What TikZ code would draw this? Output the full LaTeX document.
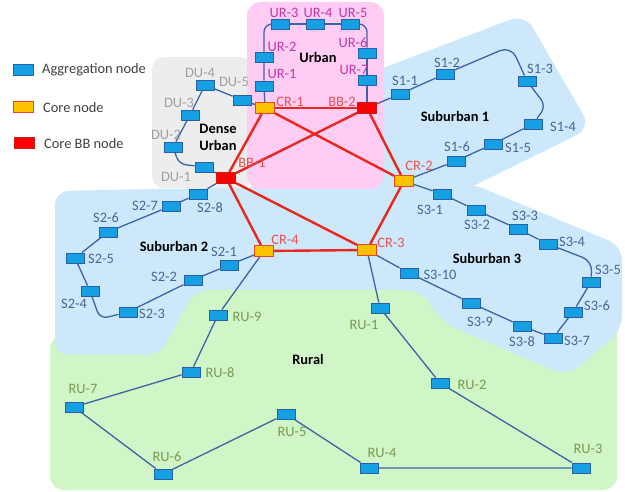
\documentclass[tikz,border=0pt]{standalone}
\usepackage{fontspec}
\setmainfont{Carlito}
\usetikzlibrary{backgrounds}
\definecolor{aggF}{RGB}{22,160,228}
\definecolor{aggB}{RGB}{40,95,165}
\definecolor{coreF}{RGB}{255,192,0}
\definecolor{coreB}{RGB}{232,72,32}
\definecolor{bbF}{RGB}{250,0,0}
\definecolor{bbB}{RGB}{200,30,20}
\definecolor{linkB}{RGB}{60,100,165}
\definecolor{linkR}{RGB}{232,40,30}
\definecolor{greyR}{RGB}{237,237,237}
\definecolor{pinkR}{RGB}{255,204,244}
\definecolor{blueR}{RGB}{204,232,250}
\definecolor{greenR}{RGB}{208,245,198}
\definecolor{duC}{RGB}{160,160,160}
\definecolor{urC}{RGB}{190,55,170}
\definecolor{crC}{RGB}{232,80,80}
\definecolor{sC}{RGB}{75,100,150}
\definecolor{ruC}{RGB}{120,155,80}
\definecolor{legC}{RGB}{64,64,64}
\tikzset{
 agg/.style={draw=aggB, fill=aggF, line width=0.9pt, minimum width=18pt, minimum height=10pt, inner sep=0pt},
 core/.style={draw=coreB, fill=coreF, line width=1pt, minimum width=19pt, minimum height=11pt, inner sep=0pt},
 bbn/.style={draw=bbB, fill=bbF, line width=1pt, minimum width=19pt, minimum height=11pt, inner sep=0pt},
 lbl/.style={inner sep=0pt, font=\fontsize{14.4}{16}\selectfont},
 reg/.style={inner sep=0pt, align=center, font=\bfseries\fontsize{14.4}{17}\selectfont},
 leg/.style={inner sep=0pt, anchor=west, text=legC, font=\fontsize{14.4}{16}\selectfont},
 alink/.style={draw=linkB, line width=1.3pt},
 clink/.style={draw=linkR, line width=2.4pt},
}
\begin{document}
\begin{tikzpicture}[x=1pt,y=-1pt]
\useasboundingbox (0,0) rectangle (625,492);

% legend
\node[agg, minimum width=20pt, minimum height=11pt] (legA) at (23,70) {};
\node[core, minimum width=20pt] (legC) at (23,107) {};
\node[bbn, minimum width=20pt] (legB) at (24,143) {};
\node[leg] (legAt) at (42,70) {Aggregation node};
\node[leg] (legCt) at (43,108) {Core node};
\node[leg] (legBt) at (44,144) {Core BB node};

% core nodes
\node[core] (cr1) at (265,108) {};
\node[bbn] (bb2) at (367,108) {};
\node[bbn] (bb1) at (226,178) {};
\node[core] (cr2) at (404,181) {};
\node[core] (cr3) at (367,250) {};
\node[core] (cr4) at (264,251) {};

% aggregation nodes
\node[agg] (du1) at (204,167) {};
\node[agg] (du2) at (173,147) {};
\node[agg] (du3) at (190,115) {};
\node[agg] (du4) at (205,85) {};
\node[agg] (du5) at (242,100) {};
\node[agg] (ur1) at (264,86) {};
\node[agg] (ur2) at (264,57) {};
\node[agg] (ur3) at (280,24) {};
\node[agg] (ur4) at (315,24) {};
\node[agg] (ur5) at (350,24) {};
\node[agg] (ur6) at (367,53) {};
\node[agg] (ur7) at (367,80) {};
\node[agg] (sa1) at (400,94) {};
\node[agg] (sa2) at (445,74) {};
\node[agg] (sa3) at (527,81) {};
\node[agg] (sa4) at (533,124) {};
\node[agg] (sa5) at (493,144) {};
\node[agg] (sa6) at (456,161) {};
\node[agg] (sc1) at (442,194) {};
\node[agg] (sc2) at (476,210) {};
\node[agg] (sc3) at (518,229) {};
\node[agg] (sc4) at (548,244) {};
\node[agg] (sc5) at (591,282) {};
\node[agg] (sc6) at (573,312) {};
\node[agg] (sc7) at (553,338) {};
\node[agg] (sc8) at (522,326) {};
\node[agg] (sc9) at (471,303) {};
\node[agg] (sc10) at (409,273) {};
\node[agg] (sb1) at (229,265) {};
\node[agg] (sb2) at (193,280) {};
\node[agg] (sb3) at (128,312) {};
\node[agg] (sb4) at (90,291) {};
\node[agg] (sb5) at (75,258) {};
\node[agg] (sb6) at (108,232) {};
\node[agg] (sb7) at (171,206) {};
\node[agg] (sb8) at (198,194) {};
\node[agg] (ru1) at (380,308) {};
\node[agg] (ru2) at (440,383) {};
\node[agg] (ru3) at (581,468) {};
\node[agg] (ru4) at (369,468) {};
\node[agg] (ru5) at (286,414) {};
\node[agg] (ru6) at (163,474) {};
\node[agg] (ru7) at (74,407) {};
\node[agg] (ru8) at (191,372) {};
\node[agg] (ru9) at (218,315) {};

% helper corners
\coordinate (kD) at (179,164);
\coordinate (kU1) at (264,24);
\coordinate (kU2) at (367,24);
\coordinate (kS1) at (511,46);
\coordinate (kS2) at (546,106);
\coordinate (kS3) at (592,261);
\coordinate (kS4) at (100,319);

\begin{scope}[on background layer]
% regions
\fill[greenR, rounded corners=14pt] (50,335) -- (130,335) -- (130,290) -- (617,290) -- (617,490) -- (50,490) -- cycle;
\fill[blueR, rounded corners=14pt] (55,191) -- (470,183) -- (622,246) -- (622,330) -- (567,376) -- (445,324) -- (420,290) -- (195,290) -- (160,355) -- (55,355) -- cycle;
\fill[blueR, rounded corners=16pt] (320,92) -- (525,14) -- (591,128) -- (380,232) -- cycle;
\fill[greyR, rounded corners=12pt] (152,57) rectangle (252,188);
\fill[pinkR, rounded corners=14pt] (247,2) rectangle (384,189);
% core links
\draw[clink] (cr1) -- (bb2);
\draw[clink] (cr1) -- (bb1);
\draw[clink] (cr1) -- (cr2);
\draw[clink] (bb2) -- (bb1);
\draw[clink] (bb2) -- (cr2);
\draw[clink] (bb1) -- (cr4);
\draw[clink] (bb1) -- (cr3);
\draw[clink] (cr2) -- (cr3);
\draw[clink] (cr4) -- (cr3);
% dense urban
\draw[alink] (bb1) -- (du1);
\draw[alink, rounded corners=7pt] (du1) -- (kD) -- (du2);
\draw[alink] (du2) -- (du3) -- (du4) -- (du5) -- (cr1);
% urban
\draw[alink] (cr1) -- (ur1) -- (ur2);
\draw[alink, rounded corners=8pt] (ur2) -- (kU1) -- (ur3);
\draw[alink] (ur3) -- (ur4) -- (ur5);
\draw[alink, rounded corners=8pt] (ur5) -- (kU2) -- (ur6);
\draw[alink] (ur6) -- (ur7) -- (bb2);
% suburban 1
\draw[alink] (bb2) -- (sa1) -- (sa2);
\draw[alink, rounded corners=12pt] (sa2) -- (kS1) -- (sa3);
\draw[alink, rounded corners=8pt] (sa3) -- (kS2) -- (sa4);
\draw[alink] (sa4) -- (sa5) -- (sa6) -- (cr2);
% suburban 3
\draw[alink] (cr2) -- (sc1) -- (sc2) -- (sc3) -- (sc4);
\draw[alink, rounded corners=10pt] (sc4) -- (kS3) -- (sc5);
\draw[alink] (sc5) -- (sc6) -- (sc7) -- (sc8) -- (sc9) -- (sc10) -- (cr3);
% suburban 2
\draw[alink] (cr4) -- (sb1) -- (sb2) -- (sb3);
\draw[alink, rounded corners=8pt] (sb3) -- (kS4) -- (sb4);
\draw[alink] (sb4) -- (sb5) -- (sb6) -- (sb7) -- (sb8) -- (bb1);
% rural
\draw[alink] (cr3) -- (ru1) -- (ru2) -- (ru3) -- (ru4) -- (ru5) -- (ru6) -- (ru7) -- (ru8) -- (ru9) -- (cr4);
\end{scope}

% labels core
\node[lbl, text=crC] (tcr1) at (290,102) {CR-1};
\node[lbl, text=crC] (tbb2) at (342,102) {BB-2};
\node[lbl, text=crC] (tbb1) at (252,163) {BB-1};
\node[lbl, text=crC] (tcr2) at (419,166) {CR-2};
\node[lbl, text=crC] (tcr3) at (391,243) {CR-3};
\node[lbl, text=crC] (tcr4) at (285,240) {CR-4};
% labels DU
\node[lbl, text=duC] (tdu1) at (176,177) {DU-1};
\node[lbl, text=duC] (tdu2) at (166,135) {DU-2};
\node[lbl, text=duC] (tdu3) at (179,103) {DU-3};
\node[lbl, text=duC] (tdu4) at (200,73) {DU-4};
\node[lbl, text=duC] (tdu5) at (234,82) {DU-5};
% labels UR
\node[lbl, text=urC] (tur1) at (282,74) {UR-1};
\node[lbl, text=urC] (tur2) at (282,47) {UR-2};
\node[lbl, text=urC] (tur3) at (284,13) {UR-3};
\node[lbl, text=urC] (tur4) at (318,13) {UR-4};
\node[lbl, text=urC] (tur5) at (353,13) {UR-5};
\node[lbl, text=urC] (tur6) at (353,43) {UR-6};
\node[lbl, text=urC] (tur7) at (354,70) {UR-7};
% labels S1
\node[lbl, text=sC] (tsa1) at (405,81) {S1-1};
\node[lbl, text=sC] (tsa2) at (447,63) {S1-2};
\node[lbl, text=sC] (tsa3) at (540,69) {S1-3};
\node[lbl, text=sC] (tsa4) at (563,127) {S1-4};
\node[lbl, text=sC] (tsa5) at (518,148) {S1-5};
\node[lbl, text=sC] (tsa6) at (457,147) {S1-6};
% labels S3
\node[lbl, text=sC] (tsc1) at (430,210) {S3-1};
\node[lbl, text=sC] (tsc2) at (477,225) {S3-2};
\node[lbl, text=sC] (tsc3) at (525,216) {S3-3};
\node[lbl, text=sC] (tsc4) at (572,242) {S3-4};
\node[lbl, text=sC] (tsc5) at (608,270) {S3-5};
\node[lbl, text=sC] (tsc6) at (597,306) {S3-6};
\node[lbl, text=sC] (tsc7) at (577,341) {S3-7};
\node[lbl, text=sC] (tsc8) at (522,342) {S3-8};
\node[lbl, text=sC] (tsc9) at (480,322) {S3-9};
\node[lbl, text=sC] (tsc10) at (440,275) {S3-10};
% labels S2
\node[lbl, text=sC] (tsb1) at (224,252) {S2-1};
\node[lbl, text=sC] (tsb2) at (164,277) {S2-2};
\node[lbl, text=sC] (tsb3) at (152,314) {S2-3};
\node[lbl, text=sC] (tsb4) at (74,304) {S2-4};
\node[lbl, text=sC] (tsb5) at (101,259) {S2-5};
\node[lbl, text=sC] (tsb6) at (106,218) {S2-6};
\node[lbl, text=sC] (tsb7) at (145,206) {S2-7};
\node[lbl, text=sC] (tsb8) at (210,208) {S2-8};
% labels RU
\node[lbl, text=ruC] (tru1) at (364,325) {RU-1};
\node[lbl, text=ruC] (tru2) at (472,385) {RU-2};
\node[lbl, text=ruC] (tru3) at (588,449) {RU-3};
\node[lbl, text=ruC] (tru4) at (382,453) {RU-4};
\node[lbl, text=ruC] (tru5) at (292,432) {RU-5};
\node[lbl, text=ruC] (tru6) at (167,457) {RU-6};
\node[lbl, text=ruC] (tru7) at (83,389) {RU-7};
\node[lbl, text=ruC] (tru8) at (220,373) {RU-8};
\node[lbl, text=ruC] (tru9) at (247,317) {RU-9};
% region labels
\node[reg] (rDU) at (218,137) {Dense\\Urban};
\node[reg] (rUR) at (318,58) {Urban};
\node[reg] (rS1) at (455,117) {Suburban 1};
\node[reg] (rS2) at (174,247) {Suburban 2};
\node[reg] (rS3) at (487,259) {Suburban 3};
\node[reg] (rRU) at (308,360) {Rural};
\end{tikzpicture}
\end{document}
